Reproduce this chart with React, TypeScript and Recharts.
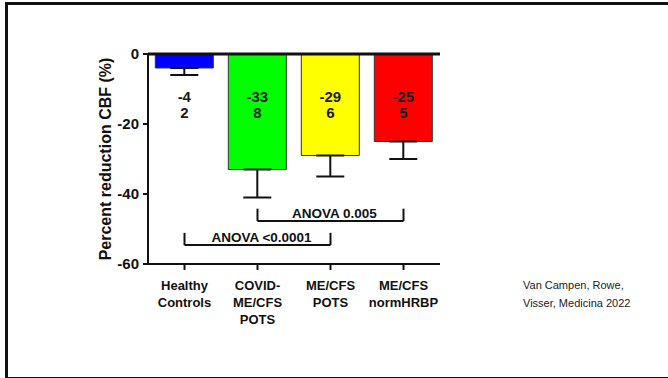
import { Bar, BarChart, Cell, ErrorBar, LabelList, ReferenceLine, XAxis, YAxis } from "recharts";

const groups = ["Healthy\nControls", "COVID-\nME/CFS\nPOTS", "ME/CFS\nPOTS", "ME/CFS\nnormHRBP"];
const means = [-4, -33, -29, -25];
const sds = [2, 8, 6, 5];
const colors = ["#0000ff", "#00ff00", "#ffff00", "#ff0000"];
const yTicks = [0, -20, -40, -60];

// significance brackets: horizontal bar at `level`, end caps rising to `level + 3.5`
const brackets = [
  { from: groups[1], to: groups[3], level: -47.7, text: "ANOVA 0.005" },
  { from: groups[0], to: groups[2], level: -54.6, text: "ANOVA <0.0001" }
];

const data = groups.map((name, i) => ({ name, mean: means[i], sd: sds[i], err: [sds[i], 0] }));

const FONT = "'Liberation Sans', Arial, sans-serif";

function GroupTick({ x, y, payload }: any) {
  const lines = String(payload.value).split("\n");
  return (
    <text x={x} y={y + 18} textAnchor="middle" fontFamily={FONT} fontSize={13} fontWeight="bold" fill="#111">
      {lines.map((l, i) => (
        <tspan key={i} x={x} dy={i === 0 ? 0 : 17}>
          {l}
        </tspan>
      ))}
    </text>
  );
}

function ValueLabel(props: any) {
  const { x, y, width, height, index } = props;
  const top = Math.min(y, y + height);
  const cx = x + width / 2;
  return (
    <text x={cx} textAnchor="middle" fontFamily={FONT} fontSize={15} fontWeight="bold" fill="#1a1a1a">
      <tspan x={cx} y={top + 48}>{means[index]}</tspan>
      <tspan x={cx} y={top + 64}>{sds[index]}</tspan>
    </text>
  );
}

function BracketLabel({ viewBox, value }: any) {
  return (
    <text
      x={viewBox.x + viewBox.width / 2 + 4}
      y={viewBox.y - 3}
      textAnchor="middle"
      fontFamily={FONT}
      fontSize={13.5}
      fontWeight="bold"
      fill="#111"
    >
      {value}
    </text>
  );
}

function AxisTitle({ viewBox }: any) {
  const cx = viewBox.x + 17;
  const cy = viewBox.y + viewBox.height / 2;
  return (
    <text
      x={cx}
      y={cy}
      transform={`rotate(-90 ${cx} ${cy})`}
      textAnchor="middle"
      dominantBaseline="central"
      fontFamily={FONT}
      fontSize={16}
      fontWeight="bold"
      fill="#111"
    >
      Percent reduction CBF (%)
    </text>
  );
}

export default function App() {
  return (
    <div style={{ position: "relative", width: 668, height: 378, background: "#fff", overflow: "hidden" }}>
      <style>{"body{margin:0}"}</style>
      <div
        style={{
          position: "absolute",
          left: 5,
          top: 2,
          width: 700,
          height: 372,
          borderLeft: "3px solid #111",
          borderTop: "3px solid #111",
          borderBottom: "3px solid #111"
        }}
      />
      <div style={{ position: "absolute", left: 0, top: 0 }}>
        <BarChart
          width={668}
          height={378}
          data={data}
          margin={{ top: 54, right: 228, bottom: 44, left: 88 }}
          barCategoryGap="10%"
        >
          <XAxis
            dataKey="name"
            tick={<GroupTick />}
            tickSize={6}
            axisLine={{ stroke: "#111", strokeWidth: 2 }}
            tickLine={{ stroke: "#111", strokeWidth: 2 }}
            interval={0}
            height={70}
          />
          <YAxis
            domain={[-60, 0]}
            ticks={yTicks}
            width={60}
            tickSize={5}
            tickMargin={4}
            axisLine={{ stroke: "#111", strokeWidth: 2 }}
            tickLine={{ stroke: "#111", strokeWidth: 2 }}
            tick={{ fontFamily: FONT, fontSize: 15, fontWeight: "bold", fill: "#111" }}
            label={{ content: <AxisTitle /> }}
          />
          <ReferenceLine y={0} stroke="#111" strokeWidth={3} ifOverflow="visible" />
          <Bar dataKey="mean" stroke="#333" strokeWidth={1} isAnimationActive={false}>
            {data.map((d, i) => (
              <Cell key={d.name} fill={colors[i]} />
            ))}
            <ErrorBar dataKey="err" direction="y" width={14} stroke="#111" strokeWidth={2} />
            <LabelList dataKey="mean" content={<ValueLabel />} />
          </Bar>
          {brackets.map((b) => [
            <ReferenceLine
              key={b.text + "h"}
              segment={[{ x: b.from, y: b.level }, { x: b.to, y: b.level }]}
              stroke="#111"
              strokeWidth={2}
              label={<BracketLabel value={b.text} />}
            />,
            <ReferenceLine
              key={b.text + "l"}
              segment={[{ x: b.from, y: b.level }, { x: b.from, y: b.level + 3.5 }]}
              stroke="#111"
              strokeWidth={2}
            />,
            <ReferenceLine
              key={b.text + "r"}
              segment={[{ x: b.to, y: b.level }, { x: b.to, y: b.level + 3.5 }]}
              stroke="#111"
              strokeWidth={2}
            />
          ])}
        </BarChart>
      </div>
      <div
        style={{
          position: "absolute",
          left: 523,
          top: 276,
          fontFamily: FONT,
          fontSize: 11,
          lineHeight: "18px",
          color: "#222"
        }}
      >
        Van Campen, Rowe,
        <br />
        Visser, Medicina 2022
      </div>
    </div>
  );
}
